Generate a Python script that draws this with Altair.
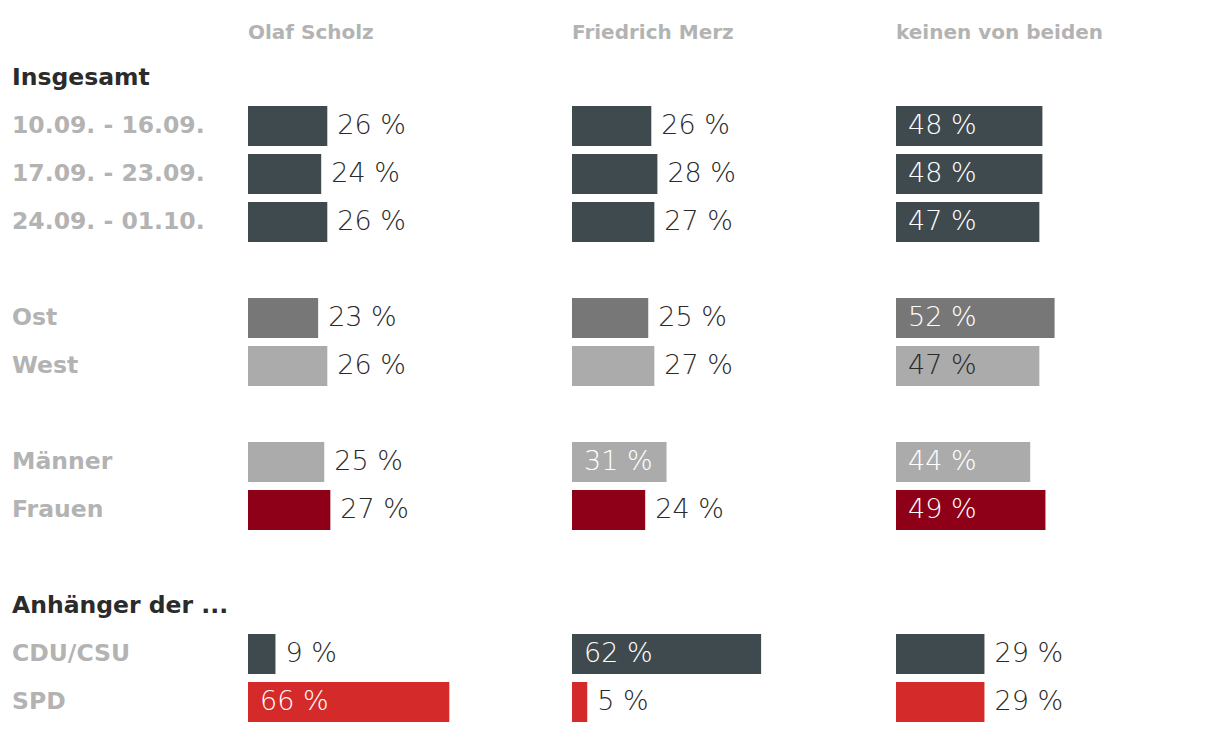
import altair as alt
import pandas as pd

# ---- data ----
row_labels = ["10.09. - 16.09.", "17.09. - 23.09.", "24.09. - 01.10.",
              "Ost", "West", "Männer", "Frauen", "CDU/CSU", "SPD"]
row_groups = ["gesamt", "gesamt", "gesamt", "ost", "west", "maenner", "frauen", "union", "spd"]
scholz = [26, 24, 26, 23, 26, 25, 27, 9, 66]
merz = [26, 28, 27, 25, 27, 31, 24, 62, 5]
keine = [48, 48, 47, 52, 47, 44, 49, 29, 29]
columns = ["Olaf Scholz", "Friedrich Merz", "keinen von beiden"]

# full row order including section headers and gaps
row_order = ["Insgesamt", "10.09. - 16.09.", "17.09. - 23.09.", "24.09. - 01.10.", " ",
             "Ost", "West", "  ", "Männer", "Frauen", "   ",
             "Anhänger der ...", "CDU/CSU", "SPD"]
headers = ["Insgesamt", "Anhänger der ..."]

group_domain = ["gesamt", "ost", "west", "maenner", "frauen", "union", "spd"]
group_range = ["#3f4a4f", "#777777", "#ababab", "#ababab", "#8e0018", "#3f4a4f", "#d42a2a"]

FONT_LABEL = "DejaVu Sans"
FONT_VAL = "DejaVu Sans"
STEP = 48
H = STEP * len(row_order)

yscale = alt.Scale(domain=row_order, paddingInner=1/6, paddingOuter=1/12)
yenc = alt.Y("row:N", scale=yscale, axis=None, sort=row_order)

# label panel
lab_df = pd.DataFrame({
    "row": [r for r in row_order if r.strip()],
})
lab_df["kind"] = ["header" if r in headers else "row" for r in lab_df["row"]]

label_panel = alt.Chart(lab_df, title=alt.Title(" ")).mark_text(
    align="left", baseline="middle", font=FONT_LABEL, fontSize=23.5, fontWeight="bold"
).encode(
    y=yenc,
    x=alt.value(4),
    text="row:N",
    color=alt.condition(alt.datum.kind == "header", alt.value("#2b2b2b"), alt.value("#b3b3b3")),
).properties(width=240, height=H)


def panel(name, values, width):
    df = pd.DataFrame({"row": row_labels, "group": row_groups, "value": values})
    df["label"] = [f"{v} %" for v in values]
    xs = alt.Scale(domain=[0, width / 3.05])
    base = alt.Chart(df)
    bars = base.mark_bar().encode(
        y=yenc,
        x=alt.X("value:Q", scale=xs, axis=None),
        color=alt.Color("group:N", scale=alt.Scale(domain=group_domain, range=group_range), legend=None),
    )
    outside = base.transform_filter(alt.datum.value < 30).mark_text(
        align="left", baseline="middle", dx=10, font=FONT_VAL, fontSize=27, fontWeight=200, color="#2a2a2a"
    ).encode(y=yenc, x=alt.X("value:Q", scale=xs), text="label:N")
    inside = base.transform_filter(alt.datum.value >= 30).mark_text(
        align="left", baseline="middle", dx=12, font=FONT_VAL, fontSize=27, fontWeight=200
    ).encode(
        y=yenc,
        x=alt.value(0),
        text="label:N",
        color=alt.condition(alt.datum.group == "west", alt.value("#2a2a2a"), alt.value("#ffffff")),
    )
    return alt.layer(bars, outside, inside, title=alt.Title(name)).properties(width=width, height=H)


chart = alt.hconcat(
    label_panel,
    panel(columns[0], scholz, 324),
    panel(columns[1], merz, 324),
    panel(columns[2], keine, 300),
    spacing=0,
).properties(
    padding={"left": 0, "top": 15, "right": 0, "bottom": 0}
).configure_view(stroke=None).configure_title(
    font=FONT_LABEL, fontSize=20, fontWeight="bold", color="#b3b3b3", anchor="start", offset=11
).configure_concat(spacing=0)

chart.save("out.html", embed_options={"renderer": "svg", "actions": False})
